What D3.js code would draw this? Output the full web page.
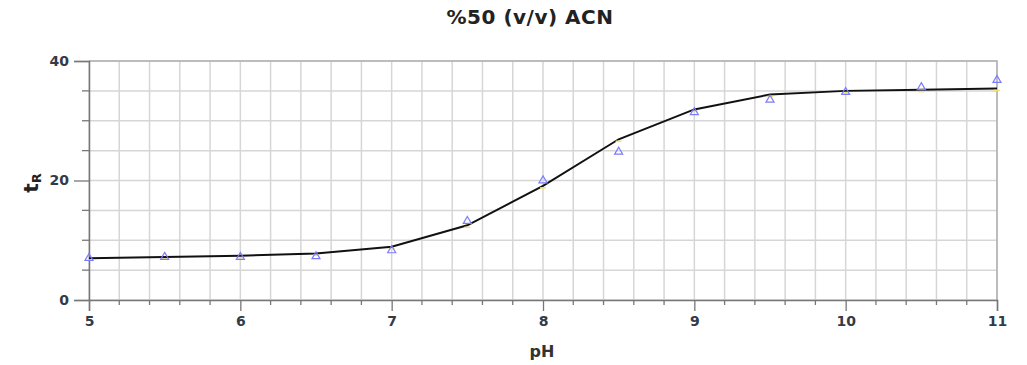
<!DOCTYPE html>
<html>
<head>
<meta charset="utf-8">
<script src="https://cdn.jsdelivr.net/npm/d3@7"></script>
<style>
  body { margin: 0; background: #fff; }
  text { font-family: "DejaVu Sans", sans-serif; }
</style>
</head>
<body>
<div id="chart"></div>
<script>
let margin = {top: 61, right: 30, bottom: 65, left: 89},
    width = 1027 - margin.left - margin.right,
    height = 365 - margin.top - margin.bottom

// measured points (triangles) and fitted curve
const phValues = [5, 5.5, 6, 6.5, 7, 7.5, 8, 8.5, 9, 9.5, 10, 10.5, 11]
const measuredTR = [7.0, 7.2, 7.2, 7.3, 8.3, 13.2, 20.0, 24.8, 31.4, 33.5, 34.8, 35.6, 36.8]
const fittedTR = [7.0, 7.2, 7.4, 7.8, 8.9, 12.5, 19.1, 26.9, 31.9, 34.4, 35.0, 35.2, 35.4]
const xTicks = [5, 6, 7, 8, 9, 10, 11]
const yTicks = [0, 20, 40]

let svg = d3.select("#chart")
            .append('svg')
            .attr('width', 1027)
            .attr('height', 365)

let g = svg.append("g")
           .attr('transform', "translate(" + margin.left + "," + margin.top + ")")

let x = d3.scaleLinear().domain([5, 11]).range([0, width])
let y = d3.scaleLinear().domain([0, 40]).range([height, 0])

// grid
let xGrid = d3.range(5, 11.001, 0.2)
let yGrid = d3.range(0, 40.001, 5)
g.append('g').selectAll('line')
 .data(xGrid)
 .join('line')
 .attr('x1', d => x(d)).attr('x2', d => x(d))
 .attr('y1', 0).attr('y2', height)
 .attr('stroke', '#d6d6d6').attr('stroke-width', 1.5)
g.append('g').selectAll('line')
 .data(yGrid)
 .join('line')
 .attr('x1', 0).attr('x2', width)
 .attr('y1', d => y(d)).attr('y2', d => y(d))
 .attr('stroke', '#d6d6d6').attr('stroke-width', 1.5)

// frame (top + right)
g.append('path')
 .attr('d', "M0,0H" + width + "V" + height)
 .attr('fill', 'none').attr('stroke', '#b0b0b0').attr('stroke-width', 1.5)

// minor ticks
let xMinor = d3.range(5, 11.001, 0.2).filter(d => Math.abs(d - Math.round(d)) > 0.01)
let yMinor = yGrid.filter(d => d % 20 !== 0)
g.append('g').selectAll('line')
 .data(xMinor)
 .join('line')
 .attr('x1', d => x(d)).attr('x2', d => x(d))
 .attr('y1', height).attr('y2', height + 5)
 .attr('stroke', '#777').attr('stroke-width', 1.3)
g.append('g').selectAll('line')
 .data(yMinor)
 .join('line')
 .attr('x1', -7).attr('x2', 0)
 .attr('y1', d => y(d)).attr('y2', d => y(d))
 .attr('stroke', '#777').attr('stroke-width', 1.3)

// axes
let xAxis = g.append('g')
             .attr('transform', "translate(0," + height + ")")
             .call(d3.axisBottom(x).tickValues(xTicks).tickSize(11).tickPadding(5).tickFormat(d3.format("d")))
let yAxis = g.append('g')
             .call(d3.axisLeft(y).tickValues(yTicks).tickSize(15).tickPadding(5))
;[xAxis, yAxis].forEach(a => {
  a.select('.domain').attr('stroke', '#777').attr('stroke-width', 1.5)
  a.selectAll('.tick line').attr('stroke', '#777').attr('stroke-width', 1.3)
  a.selectAll('.tick text')
   .attr('font-family', '"DejaVu Sans", sans-serif')
   .attr('font-size', 14)
   .attr('font-weight', 'bold')
   .attr('fill', '#343a48')
})

// fitted curve
g.append('path')
 .datum(phValues.map((p, i) => [p, fittedTR[i]]))
 .attr('fill', 'none')
 .attr('stroke', '#111')
 .attr('stroke-width', 2)
 .attr('d', d3.line().x(d => x(d[0])).y(d => y(d[1])))

// small yellow markers at curve vertices
g.append('g').selectAll('line')
 .data(phValues.map((p, i) => [p, fittedTR[i]]))
 .join('line')
 .attr('x1', d => x(d[0]) - 3).attr('x2', d => x(d[0]) + 3)
 .attr('y1', d => y(d[1]) + 2).attr('y2', d => y(d[1]) + 2)
 .attr('stroke', '#f2e66a').attr('stroke-width', 1.5)

// measured triangles
g.append('g').selectAll('path')
 .data(phValues.map((p, i) => [p, measuredTR[i]]))
 .join('path')
 .attr('transform', d => "translate(" + x(d[0]) + "," + y(d[1]) + ")")
 .attr('d', d3.symbol(d3.symbolTriangle, 28))
 .attr('fill', 'none')
 .attr('stroke', '#7b7bff')
 .attr('stroke-width', 1.2)

// labels
svg.append('text')
   .attr('x', 530).attr('y', 24)
   .attr('text-anchor', 'middle')
   .attr('font-size', 20).attr('font-weight', 'bold')
   .attr('letter-spacing', 0.5)
   .attr('fill', '#222')
   .text("%50 (v/v) ACN")

svg.append('text')
   .attr('x', 542).attr('y', 357)
   .attr('text-anchor', 'middle')
   .attr('font-size', 16).attr('font-weight', 'bold')
   .attr('fill', '#333')
   .text("pH")

let yl = svg.append('text')
   .attr('transform', "translate(38,183) rotate(-90)")
   .attr('text-anchor', 'middle')
   .attr('font-size', 20).attr('font-weight', 'bold')
   .attr('fill', '#222')
yl.append('tspan').text("t")
yl.append('tspan').attr('font-size', 13).attr('dy', 3).text("R")
</script>
</body>
</html>
